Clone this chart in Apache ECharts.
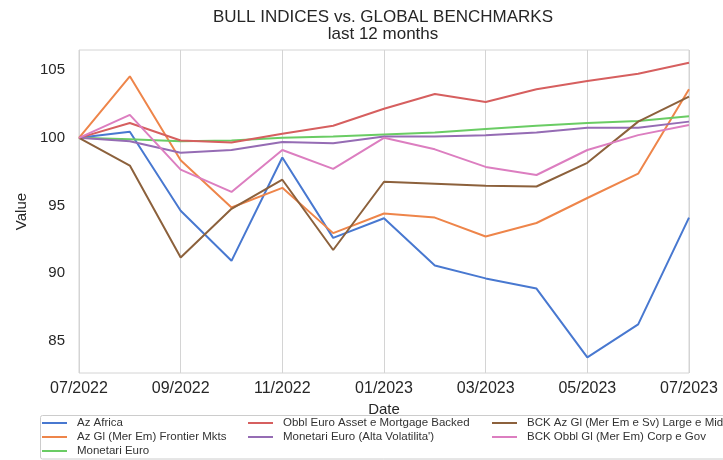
<!DOCTYPE html>
<html>
<head>
<meta charset="utf-8">
<script src="https://cdn.jsdelivr.net/npm/echarts@6/dist/echarts.min.js"></script>
<style>
  html, body { margin: 0; padding: 0; background: #fff; }
  #chart { width: 723px; height: 460px; }
</style>
</head>
<body>
<div id="chart"></div>
<script>
// monthly dates, one per point
const dates = ['07/2022', '08/2022', '09/2022', '10/2022', '11/2022', '12/2022', '01/2023',
  '02/2023', '03/2023', '04/2023', '05/2023', '06/2023', '07/2023']

const azAfrica = [100, 100.45, 94.6, 90.9, 98.55, 92.6, 94.05, 90.55, 89.6, 88.85, 83.75, 86.2, 94.1]
const azFrontier = [100, 104.55, 98.35, 94.85, 96.3, 92.95, 94.4, 94.1, 92.7, 93.7, 95.55, 97.35, 103.6]
const monetariEuro = [100, 99.9, 99.75, 99.8, 100.0, 100.1, 100.25, 100.4, 100.65, 100.9, 101.1, 101.25, 101.6]
const obblEuroAsset = [100, 101.1, 99.8, 99.65, 100.3, 100.9, 102.15, 103.25, 102.65, 103.6, 104.2, 104.75, 105.55]
const monetariAlta = [100, 99.75, 98.9, 99.1, 99.7, 99.6, 100.1, 100.1, 100.2, 100.4, 100.75, 100.75, 101.2]
const bckLargeMid = [100, 97.95, 91.15, 94.75, 96.9, 91.7, 96.75, 96.6, 96.45, 96.4, 98.15, 101.2, 103.05]
const bckCorpGov = [100, 101.7, 97.65, 96.0, 99.1, 97.7, 100.0, 99.15, 97.85, 97.25, 99.1, 100.2, 100.95]

const yTicks = [85, 90, 95, 100, 105]

const names = [
  'Az Africa',
  'Az Gl (Mer Em) Frontier Mkts',
  'Monetari Euro',
  'Obbl Euro Asset e Mortgage Backed',
  "Monetari Euro (Alta Volatilita')",
  'BCK Az Gl (Mer Em e Sv) Large e Mid',
  'BCK Obbl Gl (Mer Em) Corp e Gov'
]
const values = [azAfrica, azFrontier, monetariEuro, obblEuroAsset, monetariAlta, bckLargeMid, bckCorpGov]
const colors = ['#4878d0', '#ee854a', '#6acc64', '#d65f5f', '#956cb4', '#8c613c', '#dc7ec0']

const font = 'Liberation Sans, Arial, sans-serif'
const textColor = '#262626'

const legendBase = {
  orient: 'vertical',
  top: 416,
  padding: 0,
  itemWidth: 25,
  itemHeight: 2,
  itemGap: 0,
  icon: 'rect',
  textStyle: { fontFamily: font, fontSize: 11.5, color: '#333', lineHeight: 14, padding: [0, 0, 0, 5] }
}

const chart = echarts.init(document.getElementById('chart'))
chart.setOption({
  animation: false,
  color: colors,
  title: {
    text: 'BULL INDICES vs. GLOBAL BENCHMARKS\nlast 12 months',
    left: 383,
    top: 9,
    padding: 0,
    textAlign: 'center',
    textStyle: { fontFamily: font, fontSize: 17, fontWeight: 'normal', color: textColor, lineHeight: 17 }
  },
  grid: {
    left: 79, right: 34, top: 50, bottom: 87,
    show: true, borderColor: '#d4d4d4', borderWidth: 1
  },
  xAxis: {
    type: 'category',
    data: dates,
    boundaryGap: false,
    name: 'Date',
    nameLocation: 'middle',
    nameGap: 29,
    nameTextStyle: { fontFamily: font, fontSize: 15, color: textColor },
    axisLine: { show: false },
    axisTick: { show: false },
    axisLabel: { interval: 1, margin: 8, fontFamily: font, fontSize: 16, color: textColor },
    splitLine: { show: true, interval: 1, lineStyle: { color: '#d4d4d4', width: 1 } }
  },
  yAxis: {
    type: 'value',
    min: 82.6,
    max: 106.5,
    name: 'Value',
    nameLocation: 'middle',
    nameGap: 46,
    nameTextStyle: { fontFamily: font, fontSize: 15, color: textColor },
    axisLine: { show: false },
    axisTick: { show: false },
    axisLabel: { customValues: yTicks, margin: 14, fontFamily: font, fontSize: 15, color: textColor },
    splitLine: { show: false }
  },
  legend: [
    Object.assign({}, legendBase, { left: 42, data: names.slice(0, 3) }),
    Object.assign({}, legendBase, { left: 248, data: names.slice(3, 5) }),
    Object.assign({}, legendBase, { left: 492, data: names.slice(5, 7) })
  ],
  graphic: [{
    type: 'rect',
    z: 0,
    shape: { x: 40.5, y: 415.5, width: 700, height: 43.5, r: 2 },
    style: { fill: '#fff', stroke: '#cccccc', lineWidth: 1 }
  }],
  series: names.map((n, i) => ({
    name: n,
    type: 'line',
    data: values[i],
    showSymbol: false,
    symbol: 'none',
    lineStyle: { width: 2, color: colors[i] },
    itemStyle: { color: colors[i] }
  }))
})
</script>
</body>
</html>
